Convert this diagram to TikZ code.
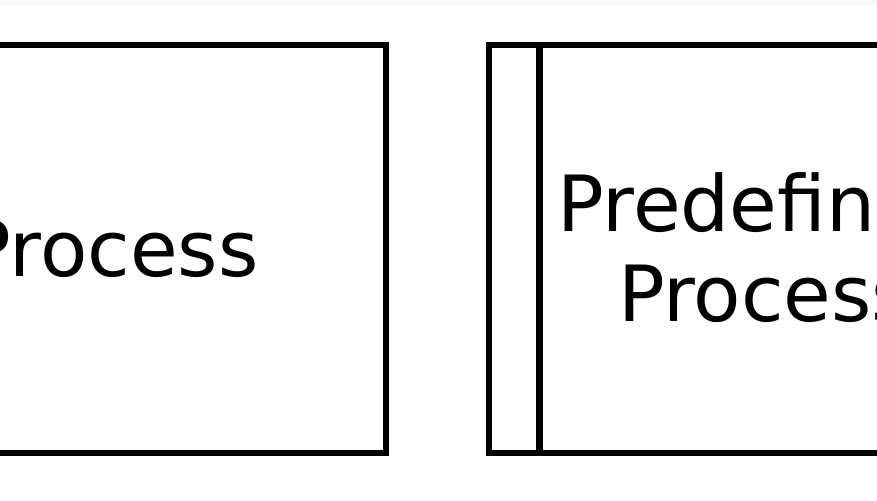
\documentclass[tikz,border=0pt]{standalone}
\usepackage{fontspec}
\setmainfont{DejaVu Sans}
\usetikzlibrary{positioning}

\begin{document}
\begin{tikzpicture}[x=1pt,y=-1pt]

% page and faint top band
\useasboundingbox (0,0) rectangle (877,500);
\fill[blue!3!gray!5] (0,0) rectangle (877,6);

% flowchart symbols
\node[draw, line width=6.8pt, rectangle, minimum width=549pt, minimum height=408pt, inner sep=0pt, font=\fontsize{77.5}{90}\selectfont] (proc) at (111.5,249) {Process};
\node[draw, line width=6.8pt, rectangle, minimum width=552pt, minimum height=408pt, inner sep=0pt, align=center, font=\fontsize{77.5}{90}\selectfont] (predef) at (765,249) {\raisebox{3pt}{Predefined}\\\raisebox{3pt}{Process}};

\draw[line width=6.8pt] ([xshift=54pt]predef.north west) -- ([xshift=54pt]predef.south west);
\end{tikzpicture}
\end{document}
